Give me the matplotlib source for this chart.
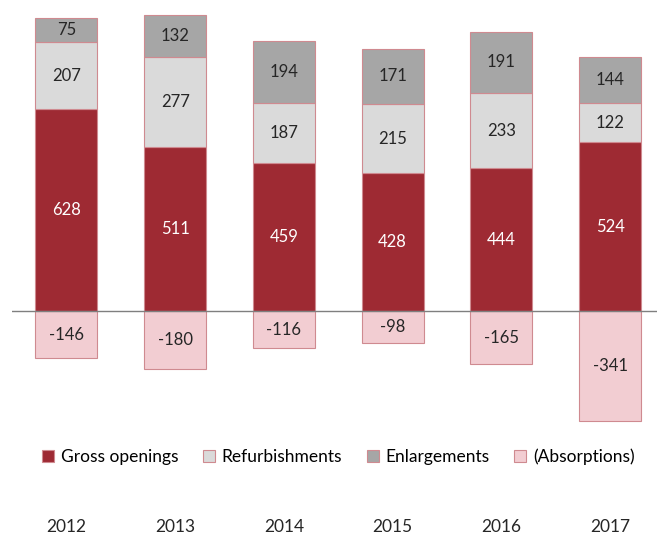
import numpy as np
import matplotlib.pyplot as plt
import matplotlib.transforms as mtransforms

plt.rcParams['font.family'] = ['Lato', 'DejaVu Sans']

years = ['2012', '2013', '2014', '2015', '2016', '2017']
gross = [628, 511, 459, 428, 444, 524]
refurb = [207, 277, 187, 215, 233, 122]
enlarge = [75, 132, 194, 171, 191, 144]
absorb = [-146, -180, -116, -98, -165, -341]

c_gross = '#9E2A33'
c_refurb = '#DADADA'
c_enlarge = '#A6A6A6'
c_absorb = '#F2CDD2'
edge = '#CF8A90'

fig = plt.figure(figsize=(6.57, 5.36), dpi=100)
ax = fig.add_axes([12 / 657, 1 - 425 / 536, 645 / 657, 415 / 536])

x = np.arange(len(years))
w = 0.57
gross = np.array(gross)
refurb = np.array(refurb)
enlarge = np.array(enlarge)
absorb = np.array(absorb)

b1 = ax.bar(x, gross, w, color=c_gross, edgecolor=edge, linewidth=0.8, label='Gross openings')
b2 = ax.bar(x, refurb, w, bottom=gross, color=c_refurb, edgecolor=edge, linewidth=0.8, label='Refurbishments')
b3 = ax.bar(x, enlarge, w, bottom=gross + refurb, color=c_enlarge, edgecolor=edge, linewidth=0.8, label='Enlargements')
b4 = ax.bar(x, absorb, w, color=c_absorb, edgecolor=edge, linewidth=0.8, label='(Absorptions)')

fs = 12
for i in range(len(years)):
    ax.text(x[i], gross[i] / 2, str(gross[i]), ha='center', va='center', color='white', fontsize=fs)
    ax.text(x[i], gross[i] + refurb[i] / 2, str(refurb[i]), ha='center', va='center', color='#262626', fontsize=fs)
    ax.text(x[i], gross[i] + refurb[i] + enlarge[i] / 2, str(enlarge[i]), ha='center', va='center', color='#262626', fontsize=fs)
    ax.text(x[i], absorb[i] / 2, str(absorb[i]), ha='center', va='center', color='#262626', fontsize=fs)

ax.axhline(0, color='#7F7F7F', linewidth=1)
ax.set_xlim(-0.5, 5.43)
ax.set_ylim(-354, 935)
ax.axis('off')

# year labels under the legend
blend = mtransforms.blended_transform_factory(ax.transData, fig.transFigure)
for i in range(len(years)):
    fig.text(x[i], 1 - 527 / 536, years[i], transform=blend, ha='center', va='center', fontsize=12.5, color='#262626')

fig.legend(handles=[b1, b2, b3, b4], loc='center', bbox_to_anchor=(0.515, 1 - 457 / 536),
           ncol=4, frameon=False, fontsize=12.5, handlelength=0.7, handleheight=0.7,
           handletextpad=0.4, columnspacing=1.4)

fig.savefig('out.png', dpi=100)
